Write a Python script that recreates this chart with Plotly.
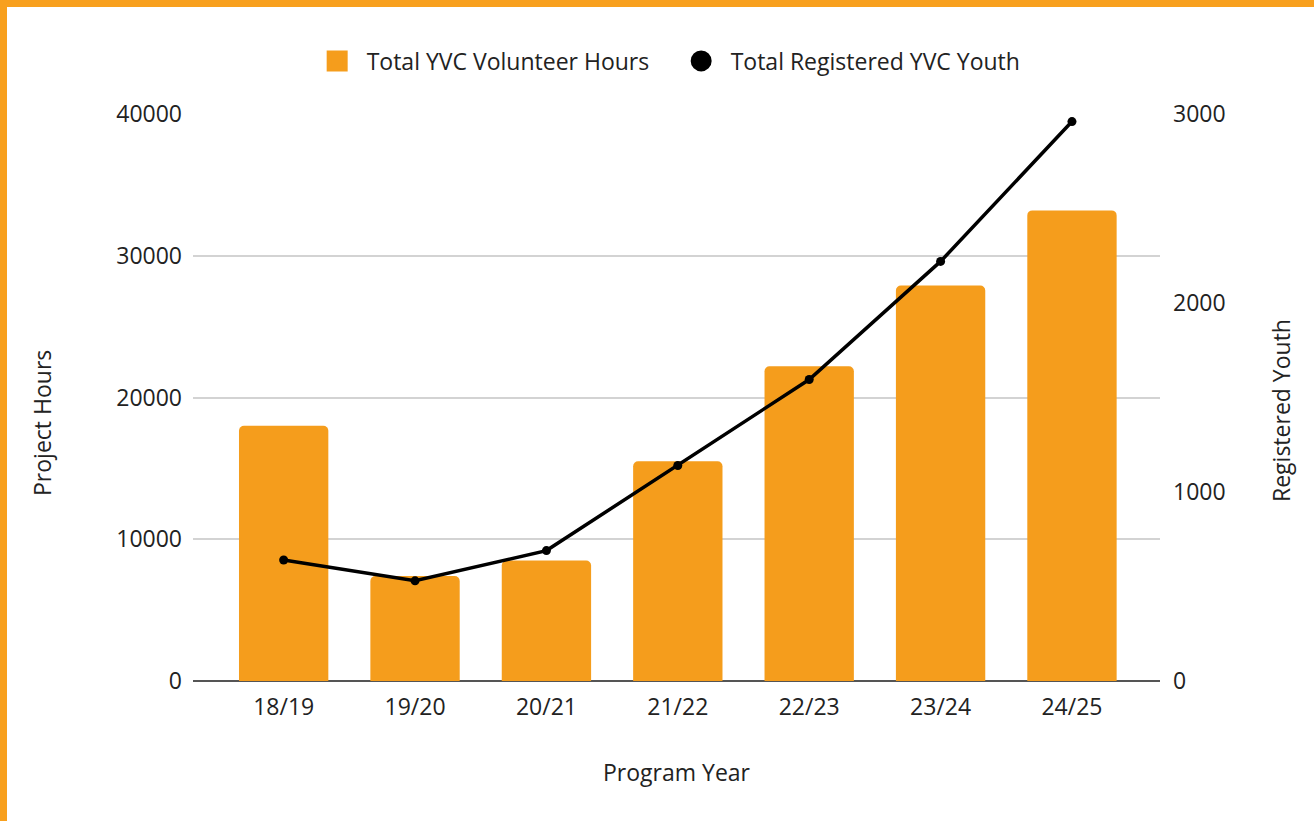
import plotly.graph_objects as go

years = ["18/19", "19/20", "20/21", "21/22", "22/23", "23/24", "24/25"]
volunteer_hours = [18000, 7400, 8500, 15500, 22200, 27900, 33200]
registered_youth = [640, 530, 690, 1140, 1595, 2220, 2960]

hours_ticks = [0, 10000, 20000, 30000, 40000]
youth_ticks = [0, 1000, 2000, 3000]

ORANGE = "#F59D1C"
BORDER = "#F8A01E"
W, H = 1314, 821
L, R, T, B = 193, 154, 114, 140
FONT = "Open Sans"
TXT = "#222222"
FS = 23

pw = W - L - R
ph = H - T - B


def px_x(px):
    return (px - L) / pw


def px_y(py):
    return 1 - (py - T) / ph


fig = go.Figure()
fig.add_trace(go.Bar(
    x=years, y=volunteer_hours, name="Total YVC Volunteer Hours",
    marker=dict(color=ORANGE, line=dict(width=0)), width=0.68,
    showlegend=False, yaxis="y",
))
fig.add_trace(go.Scatter(
    x=years, y=registered_youth, name="Total Registered YVC Youth",
    mode="lines+markers", line=dict(color="black", width=3.5),
    marker=dict(color="black", size=9), showlegend=False, yaxis="y2",
))
# legend entries
fig.add_trace(go.Scatter(
    x=[None], y=[None], mode="markers", name="Total YVC Volunteer Hours",
    marker=dict(symbol="square", color=ORANGE, size=16,
                line=dict(color=ORANGE, width=5)),
))
fig.add_trace(go.Scatter(
    x=[None], y=[None], mode="markers", name="Total Registered YVC Youth",
    marker=dict(symbol="circle", color="black", size=16,
                line=dict(color="black", width=5)),
))

shapes = [
    dict(type="rect", xref="paper", yref="paper",
         x0=px_x(0), x1=px_x(W), y0=px_y(7), y1=px_y(0),
         fillcolor=BORDER, line=dict(width=0), layer="below"),
    dict(type="rect", xref="paper", yref="paper",
         x0=px_x(0), x1=px_x(7), y0=px_y(H), y1=px_y(0),
         fillcolor=BORDER, line=dict(width=0), layer="below"),
]

annotations = [
    dict(text="Project Hours", xref="paper", yref="paper", x=px_x(42), y=px_y(423),
         xanchor="center", yanchor="middle", textangle=-90, showarrow=False,
         font=dict(size=FS, color=TXT, family=FONT)),
    dict(text="Registered Youth", xref="paper", yref="paper", x=px_x(1281), y=px_y(411),
         xanchor="center", yanchor="middle", textangle=-90, showarrow=False,
         font=dict(size=FS, color=TXT, family=FONT)),
]

fig.update_layout(
    width=W, height=H,
    margin=dict(l=L, r=R, t=T, b=B, pad=0),
    paper_bgcolor="white", plot_bgcolor="white",
    font=dict(family=FONT, size=FS, color=TXT),
    barcornerradius=5,
    shapes=shapes,
    annotations=annotations,
    legend=dict(orientation="h", x=0.495, xanchor="center", y=px_y(61),
                yanchor="middle", font=dict(size=FS, color=TXT),
                itemwidth=49, entrywidth=300, entrywidthmode="pixels",
                tracegroupgap=0, bgcolor="rgba(0,0,0,0)"),
    xaxis=dict(
        type="category", range=[-0.69, 6.67], showgrid=False,
        showline=False, ticks="", ticklabelstandoff=10,
        title=dict(text="Program Year", standoff=43, font=dict(size=FS)),
        zeroline=False,
    ),
    yaxis=dict(
        range=[0, 40000], tickvals=hours_ticks, showgrid=True,
        gridcolor="#D3D3D3", gridwidth=2, zeroline=True, zerolinecolor="#555555",
        zerolinewidth=2, showline=False, ticks="", ticklabelstandoff=10,
        tickformat="d",
    ),
    yaxis2=dict(
        range=[0, 3000], tickvals=youth_ticks, overlaying="y", side="right",
        showgrid=False, zeroline=False, showline=False, ticks="",
        ticklabelstandoff=12,
        tickformat="d",
    ),
)

fig.write_html("out.html", config={"displayModeBar": False},
               post_script="document.body.style.margin='0';")
